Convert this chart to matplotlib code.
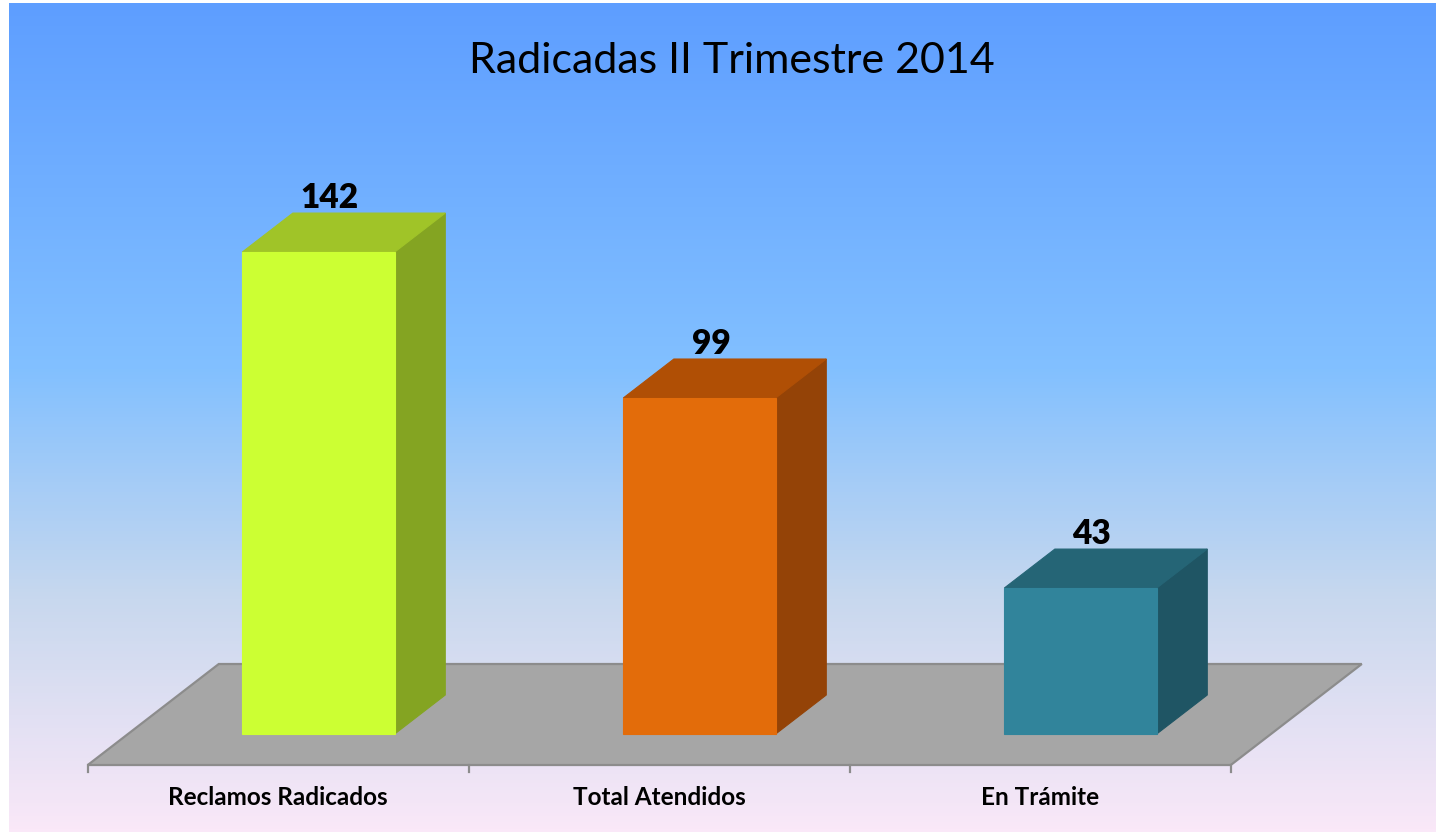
import numpy as np
import matplotlib.pyplot as plt
from matplotlib.colors import LinearSegmentedColormap
from matplotlib.patches import Polygon

categories = ["Reclamos Radicados", "Total Atendidos", "En Trámite"]
values = [142, 99, 43]
title = "Radicadas II Trimestre 2014"

front_colors = ["#CCFF33", "#E36C0A", "#31849B"]
top_colors = ["#A0C428", "#B04F05", "#256576"]
side_colors = ["#84A422", "#944307", "#1F5564"]

W, H = 1436, 832
# pixel layout of the 3d projection
X0, SX = 318.5, 381.0      # first bar front centre, pixels per category
Y0, SY = 734.0, 3.394      # baseline (from top), pixels per unit
DEPTH_PX = (131.0, 101.0)  # floor depth offset in pixels
FLOOR_D = (-0.307, 0.693)
BAR_D = (0.0, 0.386)
BAR_W = 0.4

plt.rcParams["font.family"] = ["Lato", "DejaVu Sans"]

fig = plt.figure(figsize=(W / 100, H / 100), dpi=100)
fig.patch.set_facecolor("white")

# gradient background
bg = fig.add_axes([9 / W, 0, 1 - 9 / W, 829 / H])
bg.set_axis_off()
cmap = LinearSegmentedColormap.from_list(
    "bg",
    [(0.0, "#5E9EFF"), (0.44, "#82C0FF"), (0.72, "#C8D8EE"), (1.0, "#FAE8F8")],
)
grad = np.linspace(0, 1, 256).reshape(-1, 1)
bg.imshow(grad, aspect="auto", cmap=cmap, extent=[0, 1, 1, 0])

ax = fig.add_axes([0, 0, 1, 1])
ax.set_axis_off()
ax.patch.set_alpha(0)
ax.set_xlim(-X0 / SX, (W - X0) / SX)
ax.set_ylim(-(H - Y0) / SY, Y0 / SY)

dx = DEPTH_PX[0] / SX
dy = DEPTH_PX[1] / SY


def proj(x, v, d):
    return (x + d * dx, v + d * dy)


n = len(categories)
# floor
f0, f1 = FLOOR_D
floor = [proj(-0.5, 0, f0), proj(n - 0.5, 0, f0), proj(n - 0.5, 0, f1), proj(-0.5, 0, f1)]
ax.add_patch(Polygon(floor, closed=True, facecolor="#A6A6A6", edgecolor="#8C8C8C", lw=1.6, zorder=1))

# ticks on front edge
for k in range(n + 1):
    x, y = proj(k - 0.5, 0, f0)
    ax.plot([x, x], [y, y - 7 / SY], color="#8C8C8C", lw=1.6, zorder=1)

# bars
b0, b1 = BAR_D
for i, (v, fc, tc, sc) in enumerate(zip(values, front_colors, top_colors, side_colors)):
    l, r = i - BAR_W / 2, i + BAR_W / 2
    front = [proj(l, 0, b0), proj(r, 0, b0), proj(r, v, b0), proj(l, v, b0)]
    side = [proj(r, 0, b0), proj(r, 0, b1), proj(r, v, b1), proj(r, v, b0)]
    top = [proj(l, v, b0), proj(r, v, b0), proj(r, v, b1), proj(l, v, b1)]
    ax.add_patch(Polygon(side, closed=True, facecolor=sc, edgecolor=sc, lw=0.8, zorder=2))
    ax.add_patch(Polygon(top, closed=True, facecolor=tc, edgecolor=tc, lw=0.8, zorder=2))
    ax.add_patch(Polygon(front, closed=True, facecolor=fc, edgecolor=fc, lw=0.8, zorder=3))
    _, ly = proj(i, v, b1)
    ax.text(i + 0.03, ly + 5 / SY, str(v), ha="center", va="baseline",
            fontsize=24, fontweight="heavy", color="black", zorder=4)

# category labels
for i, cat in enumerate(categories):
    x, y = proj(i, 0, f0)
    ax.text(x, y - 40 / SY, cat, ha="center", va="baseline",
            fontsize=17.5, fontweight="bold", color="black")

ax.text((732 - X0) / SX, (Y0 - 73) / SY, title, ha="center", va="baseline",
        fontsize=31, color="black")

fig.savefig("out.png", dpi=100)
